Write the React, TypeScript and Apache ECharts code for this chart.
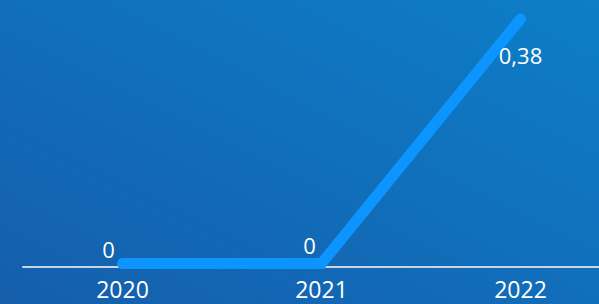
import React, { useEffect, useRef } from "react";
import * as echarts from "echarts";

const years = ["2020", "2021", "2022"];
const values = [0, 0, 0.38];
const valueLabels = ["0", "0", "0,38"];
const labelOffsets: [number, number][] = [[-14, -15], [-12, -19], [0, 36]];

export default function App() {
  const ref = useRef<HTMLDivElement>(null);
  useEffect(() => {
    if (!ref.current) return;
    const chart = echarts.init(ref.current, undefined, { renderer: "svg" });
    chart.setOption({
      animation: false,
      backgroundColor: new echarts.graphic.LinearGradient(0, 1, 1, 0, [
        { offset: 0, color: "#155eac" },
        { offset: 1, color: "#0d7ec8" },
      ]),
      grid: {
        left: 23,
        width: 597,
        top: 19,
        height: 244.5,
        containLabel: false,
        outerBoundsMode: "none",
      },
      xAxis: {
        type: "category",
        data: years,
        offset: 3,
        axisLine: { onZero: false, lineStyle: { color: "#c9d5e2", width: 2 } },
        axisTick: { show: false },
        axisLabel: {
          color: "#ffffff",
          fontSize: 23,
          fontFamily: "Open Sans",
          margin: 11,
        },
      },
      yAxis: { type: "value", min: 0, max: 0.38, show: false },
      series: [
        {
          type: "line",
          clip: false,
          showSymbol: true,
          symbol: "circle",
          symbolSize: 2,
          itemStyle: { color: "rgba(0,0,0,0)", borderWidth: 0 },
          lineStyle: { color: "#0c95fe", width: 11, cap: "round", join: "miter" },
          label: { show: true },
          data: values.map((v, i) => ({
            value: v,
            label: {
              show: true,
              position: "inside",
              offset: labelOffsets[i],
              formatter: valueLabels[i],
              color: "#ffffff",
              fontSize: 22,
              fontFamily: "Open Sans",
            },
          })),
        },
      ],
    });
    return () => chart.dispose();
  }, []);
  return (
    <div
      ref={ref}
      style={{ position: "fixed", left: 0, top: 0, width: 599, height: 304 }}
    />
  );
}
